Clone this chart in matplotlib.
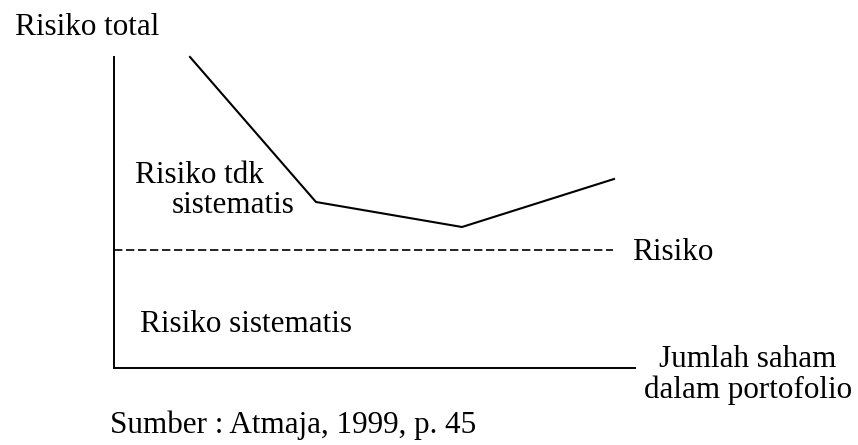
import matplotlib.pyplot as plt

# ========== DATA ==========
# total risk curve (x: number of stocks, y: risk), arbitrary units
curve_x = [76, 202, 348, 500]
curve_y = [311, 166, 141, 189]
systematic_level = 118
systematic_end = 499

plt.rcParams["font.family"] = ["Liberation Serif", "DejaVu Serif"]
fs = 22.4

W, H = 858, 445
fig = plt.figure(figsize=(W / 100, H / 100), dpi=100)
fig.patch.set_facecolor("white")

# axes placed so the origin sits at (114, 368) px
x0, y0 = 114, 368
x_len, y_len = 521, 311
ax = fig.add_axes([x0 / W, (H - y0) / H, x_len / W, y_len / H])
ax.set_xlim(0, x_len)
ax.set_ylim(0, y_len)
ax.axis("off")

# axis lines
ax.plot([0, 0], [0, y_len], color="black", lw=1.4, clip_on=False)
ax.plot([0, x_len], [0, 0], color="black", lw=1.4, clip_on=False)

# total risk curve
ax.plot(curve_x, curve_y, color="black", lw=1.5, clip_on=False)

# systematic risk level
ax.plot([0, systematic_end], [systematic_level, systematic_level],
        color="black", lw=1.2, dashes=(5, 2.2), clip_on=False)

# labels inside the plot
ax.text(21, 185, "Risiko tdk", fontsize=fs, va="baseline", ha="left")
ax.text(58, 155, "sistematis", fontsize=fs, va="baseline", ha="left")
ax.text(26, 36, "Risiko sistematis", fontsize=fs, va="baseline", ha="left")
ax.text(518, systematic_level - 10, "Risiko", fontsize=fs, va="baseline",
        ha="left", clip_on=False)

# figure-level texts (pixel positions from top-left, baseline)
def ftext(x, y, s, **kw):
    fig.text(x / W, 1 - y / H, s, fontsize=fs, va="baseline", **kw)

ftext(15, 35, "Risiko total", ha="left")
ftext(748, 367, "Jumlah saham", ha="center")
ftext(748, 398, "dalam portofolio", ha="center")
ftext(110, 433, "Sumber : Atmaja, 1999, p. 45", ha="left")

fig.savefig("out.png", dpi=100, facecolor="white")
